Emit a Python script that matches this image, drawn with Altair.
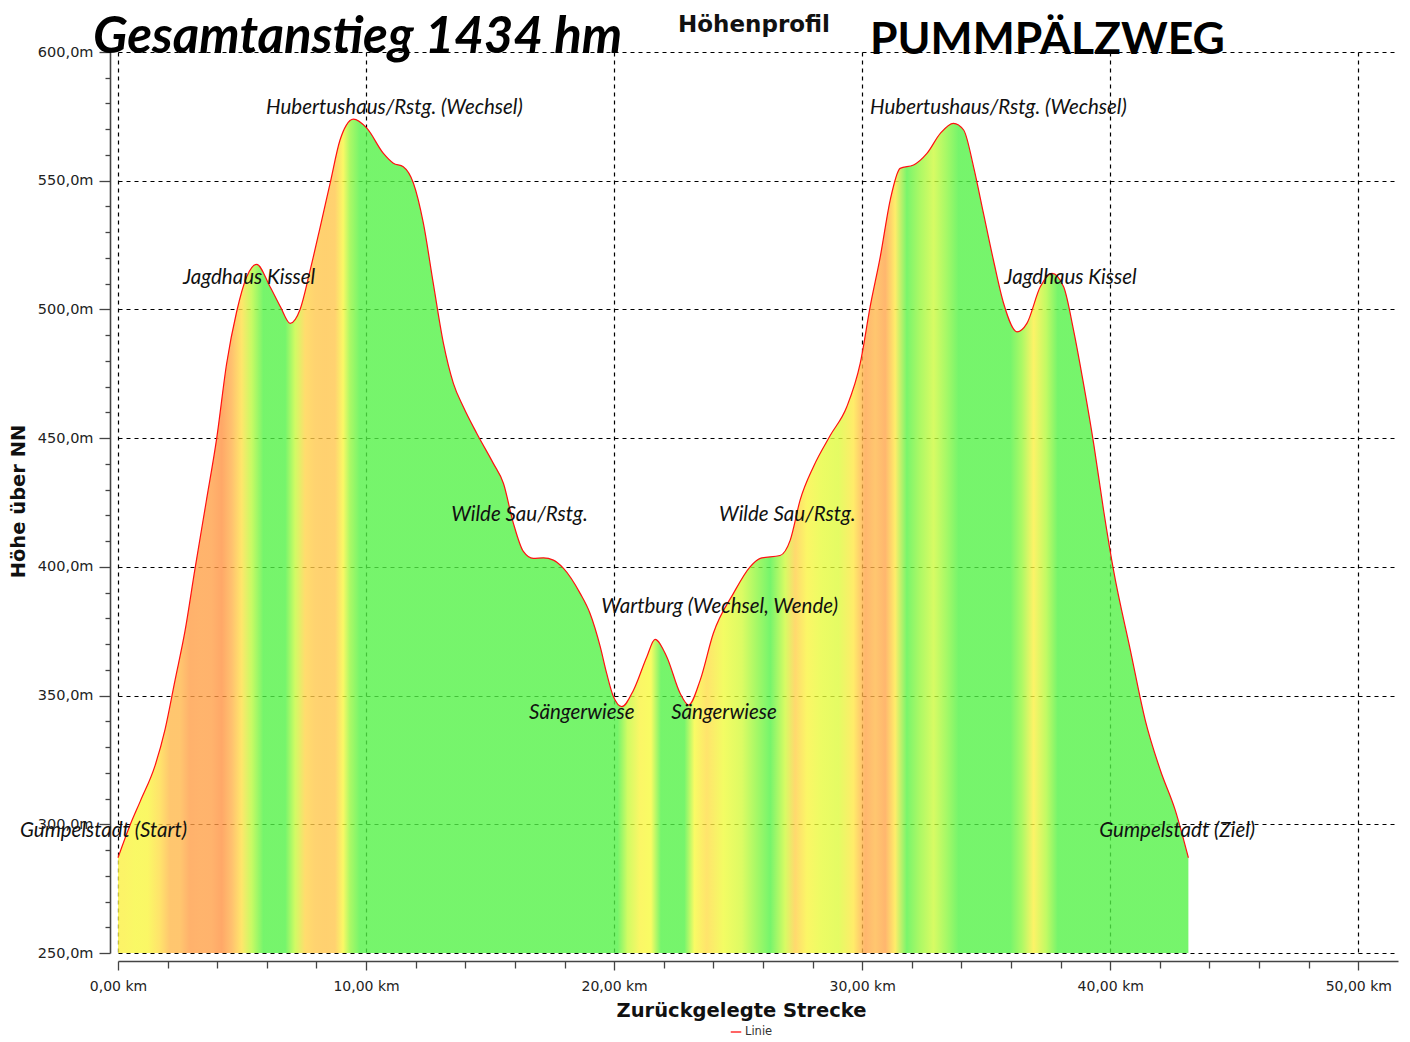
import altair as alt
import pandas as pd

# ---- elevation profile (km along route, metres above sea level) ----
km = [0.0, 0.5, 0.9, 1.5, 1.9, 2.3, 2.7, 3.1, 3.55, 3.98, 4.38, 4.78, 5.19, 5.59,
      6.13, 6.55, 6.94, 7.34, 7.74, 8.15, 8.55, 8.95, 9.2, 9.49, 10.03, 10.7, 11.1,
      11.5, 11.91, 12.31, 12.71, 13.12, 13.52, 13.92, 14.46, 15.13, 15.54, 15.94,
      16.34, 16.74, 17.15, 17.55, 17.96, 18.63, 19.03, 19.44, 19.7, 19.97, 20.31,
      20.78, 21.32, 21.65, 22.12, 22.66, 23.0, 23.47, 24.0, 24.81, 25.48, 25.89,
      26.69, 27.1, 27.5, 28.04, 28.71, 29.38, 29.92, 30.32, 30.73, 31.13, 31.53,
      32.07, 32.61, 33.15, 33.68, 34.09, 34.49, 34.89, 35.29, 35.7, 36.24, 36.64,
      37.18, 37.65, 38.12, 38.52, 38.92, 39.33, 39.73, 40.13, 40.81, 41.41, 42.02,
      42.62, 43.15]
elev = [287, 300, 309, 323, 337, 356, 375, 399, 425, 450, 479, 499, 512.7, 517.5,
        508.8, 501, 494.6, 500, 515, 532, 549, 565.8, 571.5, 573.9, 570.4, 560.6, 556.8,
        555.4, 549, 533.5, 510.1, 486.8, 471.3, 462.2, 451.9, 440.2, 432.4, 416.9,
        406, 403.3, 403.5, 402.6, 399.4, 389.7, 381.9, 369, 358.6, 349.6, 345.7,
        352.1, 365.1, 371.8, 365.1, 350.9, 346.3, 356, 374.2, 389.7, 400, 403.3,
        404.4, 410.4, 426, 439, 451, 462.2, 479, 501, 520.5, 542.5, 554.8,
        556.1, 560.6, 568.4, 572.3, 569.7, 555.4, 537.3, 519.2, 502.4, 491.3, 494.6,
        508.8, 514, 508.8, 492, 471.3, 448, 422.1, 398.8, 367.7, 340.5, 321,
        305.5, 287]

# ---- waypoint annotations ----
label_text = ["Gumpelstadt (Start)", "Jagdhaus Kissel", "Hubertushaus/Rstg. (Wechsel)",
              "Wilde Sau/Rstg.", "Wartburg (Wechsel, Wende)", "Sängerwiese", "Sängerwiese",
              "Wilde Sau/Rstg.", "Hubertushaus/Rstg. (Wechsel)", "Jagdhaus Kissel",
              "Gumpelstadt (Ziel)"]
label_km = [-3.95, 2.62, 5.97, 13.43, 19.48, 16.57, 22.3, 24.23, 30.32, 35.73, 39.56]
label_elev = [297.4, 512.2, 578.2, 420.1, 384.4, 343.2, 343.2, 420.1, 578.2, 512.2, 297.4]

x_ticks = list(range(0, 51, 2))
y_ticks = list(range(250, 601, 10))

# ---- slope -> colour (green = flat/downhill, yellow -> orange = climbing) ----
slope_pts = [0.2, 1.0, 2.0, 3.0, 4.2, 5.5, 7.0]
slope_rgb = [(118, 245, 108), (188, 250, 100), (248, 252, 100), (255, 238, 105),
             (255, 210, 112), (255, 182, 110), (255, 168, 104)]
FILL_OPACITY = 0.8


def slope_color(s):
    if s <= slope_pts[0]:
        rgb = slope_rgb[0]
    elif s >= slope_pts[-1]:
        rgb = slope_rgb[-1]
    else:
        for i in range(len(slope_pts) - 1):
            if slope_pts[i] <= s <= slope_pts[i + 1]:
                t = (s - slope_pts[i]) / (slope_pts[i + 1] - slope_pts[i])
                rgb = tuple(a + (b - a) * t for a, b in zip(slope_rgb[i], slope_rgb[i + 1]))
                break
    # compensate for translucency over white
    c = [max(0, min(255, round((v - (1 - FILL_OPACITY) * 255) / FILL_OPACITY))) for v in rgb]
    return "#%02x%02x%02x" % tuple(c)


total = km[-1]
stops = []
for i in range(len(km) - 1):
    s = (elev[i + 1] - elev[i]) / (km[i + 1] - km[i]) / 10.0
    mid = (km[i] + km[i + 1]) / 2 / total
    stops.append((round(mid, 5), slope_color(s)))
stops = [(0.0, stops[0][1])] + stops + [(1.0, stops[-1][1])]
gradient = alt.LinearGradient(
    gradient="linear", x1=0, x2=1, y1=0, y2=0,
    stops=[alt.GradientStop(offset=o, color=c) for o, c in stops])

profile = pd.DataFrame({"km": km, "elev": elev, "series": ["Linie"] * len(km)})
labels = pd.DataFrame({"km": label_km, "elev": label_elev, "name": label_text})

AXIS_FONT = "DejaVu Sans"

x_axis = alt.Axis(
    values=x_ticks,
    labelExpr="datum.value % 10 === 0 ? replace(format(datum.value, '.2f'), '.', ',') + ' km' : ''",
    labelOverlap=False, labelFlush=False, labelFont=AXIS_FONT, labelFontSize=14,
    labelColor="#222", labelPadding=9,
    tickSize={"condition": {"test": "datum.value % 10 === 0", "value": 9}, "value": 7},
    tickColor="#444", tickWidth=1.3,
    grid=True,
    gridOpacity={"condition": {"test": "datum.value % 10 === 0", "value": 1}, "value": 0},
    gridDash=[4, 4], gridColor="#000", gridWidth=1.2,
    domainColor="#444", domainWidth=1.6, offset=8,
    title="Zurückgelegte Strecke", titleFont=AXIS_FONT, titleFontSize=19.5,
    titleFontWeight="bold", titleColor="#111", titleX=623, titleY=49,
    titleBaseline="middle", titleAlign="center")

y_axis = alt.Axis(
    values=y_ticks,
    labelExpr="datum.value % 50 === 0 ? replace(format(datum.value, '.1f'), '.', ',') + 'm' : ''",
    labelOverlap=False, labelFlush=False, labelFont=AXIS_FONT, labelFontSize=14.5,
    labelColor="#222", labelPadding=6,
    tickSize={"condition": {"test": "datum.value % 50 === 0", "value": 11}, "value": 5},
    tickColor="#444", tickWidth=1.3,
    grid=True,
    gridOpacity={"condition": {"test": "datum.value % 50 === 0", "value": 1}, "value": 0},
    gridDash=[4, 4], gridColor="#000", gridWidth=1.2,
    domainColor="#444", domainWidth=1.6, offset=8,
    title="Höhe über NN", titleFont=AXIS_FONT, titleFontSize=19.5, titleFontWeight="bold",
    titleColor="#111", titleX=-92, titleY=449, titleAngle=270,
    titleBaseline="middle", titleAlign="center")

x_enc = alt.X("km:Q", scale=alt.Scale(domain=[0, 51.6], nice=False, zero=False), axis=x_axis)
y_enc = alt.Y("elev:Q", scale=alt.Scale(domain=[250, 600], nice=False, zero=False), axis=y_axis)

area = alt.Chart(profile).mark_area(
    interpolate="monotone", color=gradient, fillOpacity=FILL_OPACITY
).encode(x=x_enc, y=y_enc, y2=alt.datum(250))

line = alt.Chart(profile).mark_line(
    interpolate="monotone", strokeWidth=1.2
).encode(
    x=x_enc, y=y_enc,
    color=alt.Color("series:N", scale=alt.Scale(domain=["Linie"], range=["#ff1010"]),
                    legend=alt.Legend(orient="none", legendX=612, legendY=974, title=None,
                                      symbolType="stroke", symbolStrokeWidth=1.3,
                                      symbolSize=110, labelFont=AXIS_FONT,
                                      labelFontSize=11.5, labelColor="#333", padding=0,
                                      labelOffset=3)))

texts = alt.Chart(labels).mark_text(
    font="Lato", fontStyle="italic", fontSize=20.5, align="left", baseline="middle",
    color="#111"
).encode(x=x_enc, y=y_enc, text="name:N")

one = alt.Data(values=[{"a": 1}])
title_left = alt.Chart(one).mark_text(
    font="Lato", fontStyle="italic", fontWeight="bold", fontSize=51, align="left",
    baseline="alphabetic", color="#000"
).encode(x=alt.value(-25), y=alt.value(1), text=alt.value("Gesamtanstieg 1434 hm"))

title_mid = alt.Chart(one).mark_text(
    font=AXIS_FONT, fontWeight="bold", fontSize=23, align="center",
    baseline="alphabetic", color="#111"
).encode(x=alt.value(636), y=alt.value(-20), text=alt.value("Höhenprofil"))

title_right = alt.Chart(one).mark_text(
    font="Lato", fontWeight="bold", fontSize=44.5, align="left",
    baseline="alphabetic", color="#000"
).encode(x=alt.value(752), y=alt.value(2), text=alt.value("PUMMPÄLZWEG"))

chart = alt.layer(area, line, texts, title_left, title_mid, title_right).properties(
    width=1280, height=901,
    autosize=alt.AutoSizeParams(type="none"),
    padding={"left": 110, "top": 44, "right": 2, "bottom": 90},
    background="white",
).configure_view(stroke=None)

chart.save("out.html", embed_options={"renderer": "svg", "actions": False})
